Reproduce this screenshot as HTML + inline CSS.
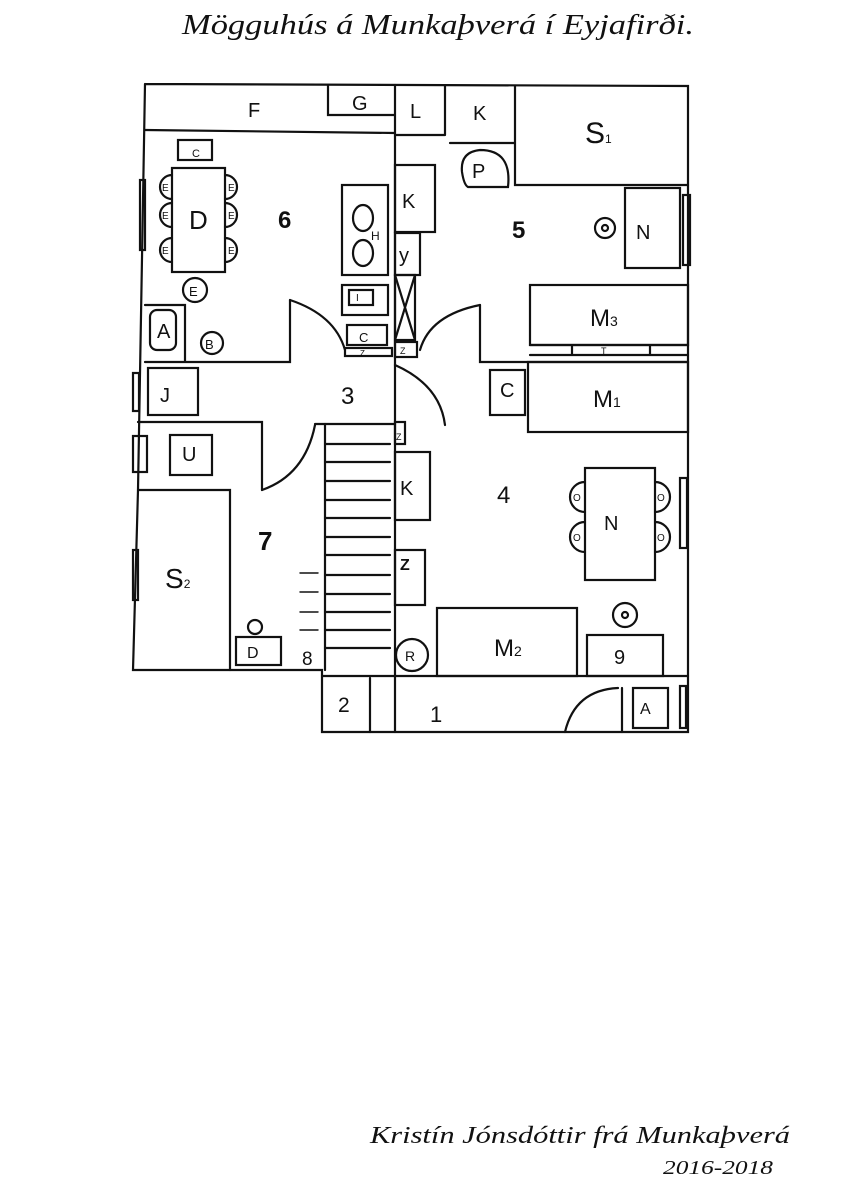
<!DOCTYPE html>
<html><head><meta charset="utf-8"><style>
html,body{margin:0;padding:0;background:#fff;width:849px;height:1200px;overflow:hidden}
svg{display:block}
text{font-family:"Liberation Serif",serif;font-style:italic;fill:#111}
.l{font-family:"Liberation Sans",sans-serif;font-style:normal}
</style></head><body>
<svg width="849" height="1200" viewBox="0 0 849 1200" xmlns="http://www.w3.org/2000/svg">
<text x="182" y="34" font-size="28" textLength="512" lengthAdjust="spacingAndGlyphs">Mögguhús á Munkaþverá í Eyjafirði.</text>
<text x="370" y="1143" font-size="24" textLength="420" lengthAdjust="spacingAndGlyphs">Kristín Jónsdóttir frá Munkaþverá</text>
<text x="663" y="1174" font-size="20" textLength="110" lengthAdjust="spacingAndGlyphs">2016-2018</text>
<g fill="none" stroke="#111" stroke-width="2.2" stroke-linecap="round">
<path d="M145,84 L688,86 L688,732 L322,732 L322,670 L133,670 L138,490 L145,84"/>
<path d="M322,676 L688,676"/>
<path d="M145,130 L395,133 M328,85 L328,115 L395,115 M395,85 L395,732 M445,86 L445,135 M395,135 L445,135 M450,143 L515,143 M515,86 L515,185 L688,185"/>
<path d="M145,362 L290,362 L290,300 M145,305 L185,305 L185,362"/>
<path d="M290,300 Q335,315 345,350"/>
<path d="M480,305 L480,362 L688,362"/>
<path d="M480,305 Q430,315 420,350"/>
<path d="M395,365 Q440,385 445,425"/>
<path d="M138,422 L262,422 L262,490"/>
<path d="M262,490 Q305,475 315,425"/>
<path d="M315,424 L395,424"/>
<path d="M138,490 L230,490 L230,670"/>
<path d="M325,424 L325,670"/>
<path d="M325,444 L390,444 M325,462 L390,462 M325,481 L390,481 M325,500 L390,500 M325,518 L390,518 M325,537 L390,537 M325,555 L390,555 M325,575 L390,575 M325,594 L390,594 M325,612 L390,612 M325,630 L390,630 M325,648 L390,648"/>
<path d="M300,573 L318,573 M300,592 L318,592 M300,612 L318,612 M300,630 L318,630" stroke-width="1.4"/>
<path d="M370,678 L370,732"/>
<rect x="178" y="140" width="34" height="20"/>
<rect x="172" y="168" width="53" height="104"/>
<path d="M172,175 A12,12 0 0 0 172,199 M172,203 A12,12 0 0 0 172,227 M172,238 A12,12 0 0 0 172,262 M225,175 A12,12 0 0 1 225,199 M225,203 A12,12 0 0 1 225,227 M225,238 A12,12 0 0 1 225,262"/>
<circle cx="195" cy="290" r="12"/>
<rect x="150" y="310" width="26" height="40" rx="7"/>
<circle cx="212" cy="343" r="11"/>
<rect x="148" y="368" width="50" height="47"/>
<rect x="140" y="180" width="5" height="70"/>
<rect x="170" y="435" width="42" height="40"/>
<rect x="133" y="436" width="14" height="36"/>
<rect x="133" y="373" width="6" height="38"/>
<rect x="236" y="637" width="45" height="28"/>
<circle cx="255" cy="627" r="7"/>
<rect x="133" y="550" width="5" height="50"/>
<rect x="342" y="185" width="46" height="90"/>
<ellipse cx="363" cy="218" rx="10" ry="13"/>
<ellipse cx="363" cy="253" rx="10" ry="13"/>
<rect x="342" y="285" width="46" height="30"/>
<rect x="349" y="290" width="24" height="15"/>
<rect x="347" y="325" width="40" height="20"/>
<rect x="345" y="348" width="47" height="8"/>
<rect x="395" y="165" width="40" height="67"/>
<rect x="395" y="233" width="25" height="42"/>
<rect x="395" y="275" width="20" height="65"/>
<path d="M395,275 L415,340 M415,275 L395,340"/>
<rect x="395" y="342" width="22" height="15"/>
<path d="M468,187 L508,187 Q512,150 480,150 Q460,152 462,172 Q464,185 468,187"/>
<circle cx="605" cy="228" r="10"/><circle cx="605" cy="228" r="3"/>
<rect x="625" y="188" width="55" height="80"/>
<rect x="683" y="195" width="7" height="70"/>
<rect x="530" y="285" width="158" height="60"/>
<path d="M530,345 L688,345 M530,355 L688,355 M572,345 L572,355 M650,345 L650,355"/>
<rect x="528" y="362" width="160" height="70"/>
<rect x="490" y="370" width="35" height="45"/>
<rect x="585" y="468" width="70" height="112"/>
<path d="M585,482 A13,13 0 0 0 585,512 M585,522 A13,13 0 0 0 585,552 M655,482 A13,13 0 0 1 655,512 M655,522 A13,13 0 0 1 655,552"/>
<rect x="680" y="478" width="7" height="70"/>
<rect x="395" y="452" width="35" height="68"/>
<rect x="395" y="550" width="30" height="55"/>
<rect x="395" y="422" width="10" height="22"/>
<circle cx="412" cy="655" r="16"/>
<rect x="437" y="608" width="140" height="68"/>
<rect x="587" y="635" width="76" height="41"/>
<circle cx="625" cy="615" r="12"/><circle cx="625" cy="615" r="3"/>
<path d="M622,688 L622,732 M565,732 Q575,690 618,688"/>
<rect x="633" y="688" width="35" height="40"/>
<rect x="680" y="686" width="6" height="42"/>
</g>
<g class="l" font-size="20">
<text class="l" x="248" y="117">F</text>
<text class="l" x="352" y="110">G</text>
<text class="l" x="410" y="118">L</text>
<text class="l" x="473" y="120">K</text>
<text class="l" x="585" y="143" font-size="30">S<tspan font-size="12">1</tspan></text>
<text class="l" x="189" y="229" font-size="26">D</text>
<text class="l" x="278" y="228" font-size="24" font-weight="bold">6</text>
<text class="l" x="512" y="238" font-size="24" font-weight="bold">5</text>
<text class="l" x="636" y="239">N</text>
<text class="l" x="402" y="208">K</text>
<text class="l" x="399" y="262">y</text>
<text class="l" x="371" y="240" font-size="12">H</text>
<text class="l" x="472" y="178">P</text>
<text class="l" x="157" y="338">A</text>
<text class="l" x="205" y="349" font-size="13">B</text>
<text class="l" x="189" y="296" font-size="13">E</text>
<g font-size="10"><text class="l" x="162" y="191">E</text><text class="l" x="162" y="219">E</text><text class="l" x="162" y="254">E</text><text class="l" x="228" y="191">E</text><text class="l" x="228" y="219">E</text><text class="l" x="228" y="254">E</text>
<text class="l" x="573" y="501">O</text><text class="l" x="573" y="541">O</text><text class="l" x="657" y="501">O</text><text class="l" x="657" y="541">O</text>
<text class="l" x="601" y="354" font-size="9">T</text><text class="l" x="360" y="356" font-size="8">Z</text><text class="l" x="400" y="354" font-size="9">Z</text><text class="l" x="396" y="440" font-size="9">Z</text></g>
<text class="l" x="160" y="402">J</text>
<text class="l" x="341" y="404" font-size="24">3</text>
<text class="l" x="590" y="326" font-size="24">M<tspan font-size="14">3</tspan></text>
<text class="l" x="593" y="407" font-size="24">M<tspan font-size="14">1</tspan></text>
<text class="l" x="500" y="397">C</text>
<text class="l" x="182" y="461">U</text>
<text class="l" x="400" y="495">K</text>
<text class="l" x="497" y="503" font-size="24">4</text>
<text class="l" x="604" y="530">N</text>
<text class="l" x="258" y="550" font-size="26" font-weight="bold">7</text>
<text class="l" x="165" y="588" font-size="28">S<tspan font-size="12">2</tspan></text>
<text class="l" x="400" y="570" font-size="16" font-weight="bold">Z</text>
<text class="l" x="247" y="658" font-size="16">D</text>
<text class="l" x="302" y="665" font-size="19">8</text>
<text class="l" x="405" y="661" font-size="14">R</text>
<text class="l" x="494" y="656" font-size="24">M<tspan font-size="14">2</tspan></text>
<text class="l" x="614" y="664">9</text>
<text class="l" x="338" y="712" font-size="21">2</text>
<text class="l" x="430" y="722" font-size="22">1</text>
<text class="l" x="640" y="714" font-size="16">A</text>
<text class="l" x="192" y="157" font-size="11">C</text>
<text class="l" x="359" y="342" font-size="13">C</text>
<text class="l" x="356" y="301" font-size="10">I</text>
</g>
</svg>
</body></html>
